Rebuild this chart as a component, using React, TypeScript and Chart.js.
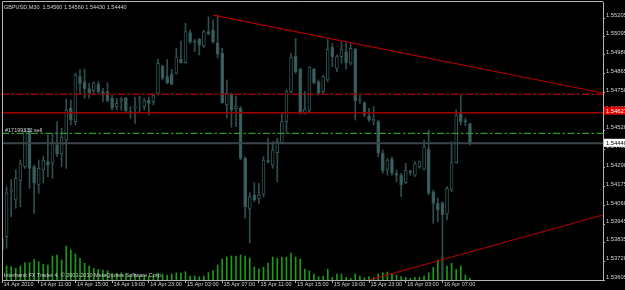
import { useEffect, useRef } from 'react';
import { Chart, registerables } from 'chart.js';

Chart.register(...registerables);

const SYMBOL = 'GBPUSD,M30';
const SLOT_COUNT = 132;
const LABEL_STEP = 8;
const AXIS_TIMES = [
  '14 Apr 2010', '14 Apr 11:00', '14 Apr 15:00', '14 Apr 19:00', '14 Apr 23:00',
  '15 Apr 03:00', '15 Apr 07:00', '15 Apr 11:00', '15 Apr 15:00', '15 Apr 19:00',
  '15 Apr 23:00', '16 Apr 03:00', '16 Apr 07:00',
];
const PRICE_TICKS = [
  1.53605, 1.5372, 1.53835, 1.53945, 1.5406, 1.54175, 1.5429, 1.54405,
  1.5452, 1.54635, 1.5475, 1.54865, 1.5498, 1.55095, 1.55205,
];
const PRICE_MIN = 1.53605;
const PRICE_MAX = 1.55303;
const VOLUME_MAX = 2780;

const OPEN = [
  1.53788, 1.53870, 1.54146, 1.54094, 1.54212, 1.54297, 1.54517, 1.54297, 1.54185, 1.54277,
  1.54328, 1.54318, 1.54430, 1.54375, 1.54460, 1.54656, 1.54572, 1.54847, 1.54816, 1.54774,
  1.54761, 1.54802, 1.54756, 1.54756, 1.54715, 1.54664, 1.54698, 1.54715, 1.54633, 1.54654,
  1.54712, 1.54664, 1.54704, 1.54694, 1.54745, 1.54912, 1.54847, 1.54863, 1.54867, 1.54953,
  1.54932, 1.55116, 1.55061, 1.55075, 1.55034, 1.55122, 1.55132, 1.55054, 1.54990, 1.54674,
  1.54741, 1.54651, 1.54654, 1.54348, 1.54037, 1.54124, 1.54104, 1.54130, 1.54332, 1.54307,
  1.54383, 1.54444, 1.54572, 1.54756, 1.54973, 1.54892, 1.54623, 1.54643, 1.54892, 1.54816,
  1.54756, 1.54827, 1.55026, 1.54898, 1.54969, 1.55000, 1.54929, 1.55014, 1.54703, 1.54688,
  1.54607, 1.54576, 1.54572, 1.54379, 1.54281, 1.54342, 1.54257, 1.54246, 1.54199, 1.54265,
  1.54246, 1.54297, 1.54281, 1.54403, 1.54144, 1.54073, 1.54077, 1.54008, 1.54155, 1.54322,
  1.54623, 1.54579, 1.54560,
];
const HIGH = [
  1.53910, 1.54175, 1.54216, 1.54277, 1.54338, 1.54521, 1.54532, 1.54307, 1.54338, 1.54362,
  1.54491, 1.54501, 1.54572, 1.54532, 1.54709, 1.54704, 1.54868, 1.54892, 1.54894, 1.54806,
  1.54816, 1.54816, 1.54776, 1.54810, 1.54735, 1.54715, 1.54721, 1.54721, 1.54664, 1.54721,
  1.54729, 1.54715, 1.54721, 1.54745, 1.54953, 1.54918, 1.54953, 1.54892, 1.55020, 1.55064,
  1.55173, 1.55132, 1.55075, 1.55081, 1.55132, 1.55213, 1.55193, 1.55224, 1.55020, 1.54827,
  1.54747, 1.54729, 1.54664, 1.54358, 1.54138, 1.54199, 1.54196, 1.54358, 1.54471, 1.54450,
  1.54471, 1.54623, 1.54766, 1.54990, 1.55081, 1.54898, 1.54756, 1.54908, 1.54898, 1.54827,
  1.54857, 1.55075, 1.55050, 1.54979, 1.55060, 1.55054, 1.55050, 1.55020, 1.54735, 1.54694,
  1.54654, 1.54664, 1.54582, 1.54399, 1.54348, 1.54358, 1.54277, 1.54257, 1.54318, 1.54277,
  1.54328, 1.54332, 1.54460, 1.54521, 1.54155, 1.54106, 1.54083, 1.54175, 1.54450, 1.54643,
  1.54735, 1.54595, 1.54560,
];
const LOW = [
  1.53758, 1.53799, 1.53992, 1.54043, 1.54053, 1.54287, 1.54165, 1.54012, 1.54135, 1.54196,
  1.54236, 1.54226, 1.54358, 1.54297, 1.54287, 1.54552, 1.54552, 1.54745, 1.54715, 1.54715,
  1.54735, 1.54745, 1.54694, 1.54694, 1.54643, 1.54643, 1.54643, 1.54631, 1.54593, 1.54562,
  1.54633, 1.54643, 1.54613, 1.54674, 1.54735, 1.54827, 1.54802, 1.54796, 1.54864, 1.54929,
  1.54929, 1.55050, 1.55000, 1.54979, 1.55026, 1.55102, 1.55050, 1.54961, 1.54684, 1.54595,
  1.54538, 1.54541, 1.54338, 1.53982, 1.53833, 1.54083, 1.54073, 1.54114, 1.54318, 1.54287,
  1.54205, 1.54440, 1.54501, 1.54745, 1.54868, 1.54619, 1.54619, 1.54633, 1.54802, 1.54735,
  1.54745, 1.54816, 1.54908, 1.54877, 1.54929, 1.54892, 1.54918, 1.54582, 1.54684, 1.54602,
  1.54572, 1.54552, 1.54358, 1.54257, 1.54246, 1.54246, 1.54205, 1.54114, 1.54194, 1.54246,
  1.54236, 1.54287, 1.54277, 1.54124, 1.53951, 1.53959, 1.53610, 1.53972, 1.54144, 1.54318,
  1.54552, 1.54546, 1.54430,
];
const CLOSE = [
  1.53861, 1.54138, 1.54152, 1.54226, 1.54314, 1.54511, 1.54287, 1.54196, 1.54287, 1.54338,
  1.54307, 1.54444, 1.54375, 1.54477, 1.54643, 1.54582, 1.54857, 1.54806, 1.54772, 1.54749,
  1.54810, 1.54756, 1.54745, 1.54700, 1.54654, 1.54684, 1.54709, 1.54639, 1.54627, 1.54664,
  1.54715, 1.54700, 1.54684, 1.54735, 1.54929, 1.54837, 1.54810, 1.54802, 1.54963, 1.54932,
  1.55122, 1.55060, 1.55057, 1.55040, 1.55122, 1.55108, 1.55060, 1.54985, 1.54688, 1.54745,
  1.54643, 1.54668, 1.54348, 1.54053, 1.54114, 1.54094, 1.54124, 1.54338, 1.54328, 1.54399,
  1.54450, 1.54572, 1.54756, 1.54965, 1.54877, 1.54623, 1.54648, 1.54904, 1.54810, 1.54745,
  1.54847, 1.55014, 1.54969, 1.54969, 1.55014, 1.54929, 1.55020, 1.54700, 1.54709, 1.54613,
  1.54582, 1.54587, 1.54379, 1.54273, 1.54338, 1.54257, 1.54246, 1.54185, 1.54277, 1.54262,
  1.54314, 1.54328, 1.54419, 1.54135, 1.54073, 1.54033, 1.54002, 1.54165, 1.54322, 1.54613,
  1.54572, 1.54570, 1.54440,
];
const VOLUME = [
  167, 140, 133, 117, 140, 173, 173, 207, 183, 157,
  150, 240, 250, 200, 340, 300, 260, 217, 167, 140,
  117, 107, 100, 93, 67, 67, 73, 60, 50, 60,
  40, 50, 40, 50, 70, 60, 50, 60, 73, 67,
  83, 40, 40, 33, 40, 73, 93, 150, 210, 230,
  240, 240, 250, 240, 220, 130, 110, 130, 170, 230,
  217, 230, 230, 270, 230, 210, 110, 90, 60, 33,
  40, 107, 27, 60, 60, 27, 17, 60, 40, 23,
  33, 27, 60, 73, 80, 67, 50, 33, 27, 17,
  27, 27, 40, 73, 127, 200, 230, 140, 167, 107,
  140, 50, 17,
];

const LEVEL_STOP = 1.5474;
const LEVEL_ALERT = 1.54627;
const LEVEL_ORDER = 1.545;
const LEVEL_BID = 1.5444;
const ORDER_TEXT = '#17199332 sell';
const COPYRIGHT = 'Interbank FX Trader 4, \u00a9 2001-2010 MetaQuotes Software Corp.';
const TREND_DOWN = [[46, 1.55223], [131, 1.54747]];
const TREND_UP = [[80, 1.53605], [131, 1.54002]];

const FONT = '"Liberation Sans", Arial, sans-serif';
const TEXT_COLOR = '#d2d2d2';
const FRAME_COLOR = '#b4b4b4';

const SLOTS = Array.from({ length: SLOT_COUNT }, (_, i) => String(i));

const mt4Plugin = {
  id: 'mt4',
  beforeDraw(chart: any) {
    const { ctx, width, height } = chart;
    ctx.save();
    ctx.fillStyle = '#000';
    ctx.fillRect(0, 0, width, height);
    ctx.restore();
  },
  afterDatasetsDraw(chart: any) {
    const { ctx, chartArea: a, scales } = chart;
    const xs = scales.x;
    const ys = scales.y;
    ctx.save();
    ctx.beginPath();
    ctx.rect(a.left, a.top, a.right - a.left, a.bottom - a.top);
    ctx.clip();
    const hline = (p: number, color: string, w: number, dash: number[]) => {
      const py = ys.getPixelForValue(p);
      ctx.strokeStyle = color;
      ctx.lineWidth = w;
      ctx.setLineDash(dash);
      ctx.beginPath();
      ctx.moveTo(a.left, py);
      ctx.lineTo(a.right, py);
      ctx.stroke();
    };
    hline(LEVEL_BID, '#3a454b', 2, []);
    hline(LEVEL_ORDER, '#2a9a2a', 1.2, [7, 2.5, 2.5, 2.5]);
    hline(LEVEL_ALERT, '#a00000', 1.6, []);
    hline(LEVEL_STOP, '#a00000', 1.4, [7, 2.5, 2.5, 2.5]);
    const tline = (pts: number[][]) => {
      const x1 = xs.getPixelForValue(pts[0][0]);
      const y1 = ys.getPixelForValue(pts[0][1]);
      const x2 = xs.getPixelForValue(pts[1][0]);
      const y2 = ys.getPixelForValue(pts[1][1]);
      const slope = (y2 - y1) / (x2 - x1);
      ctx.strokeStyle = '#b00000';
      ctx.lineWidth = 1.1;
      ctx.setLineDash([]);
      ctx.beginPath();
      ctx.moveTo(x1, y1);
      ctx.lineTo(a.right, y1 + slope * (a.right - x1));
      ctx.stroke();
    };
    tline(TREND_DOWN);
    tline(TREND_UP);
    ctx.restore();
  },
  afterDraw(chart: any) {
    const { ctx, chartArea: a, scales, width } = chart;
    const ys = scales.y;
    ctx.save();
    ctx.strokeStyle = FRAME_COLOR;
    ctx.lineWidth = 1;
    ctx.beginPath();
    ctx.moveTo(a.left + 0.5, a.bottom);
    ctx.lineTo(a.left + 0.5, a.top - 0.5);
    ctx.lineTo(a.right, a.top - 0.5);
    ctx.stroke();
    ctx.font = `5.5px ${FONT}`;
    ctx.fillStyle = TEXT_COLOR;
    ctx.textAlign = 'left';
    ctx.textBaseline = 'alphabetic';
    const n = CLOSE.length - 1;
    const header = `${SYMBOL}  ${OPEN[n].toFixed(5)} ${HIGH[n].toFixed(5)} ${LOW[n].toFixed(5)} ${CLOSE[n].toFixed(5)}`;
    ctx.fillText(header, 4, 8.5);
    ctx.fillText(COPYRIGHT, 4, 276.5);
    ctx.fillText(ORDER_TEXT, 5, ys.getPixelForValue(LEVEL_ORDER) - 1.5);
    const box = (p: number, dy: number, bg: string, fg: string) => {
      const py = ys.getPixelForValue(p) + dy;
      ctx.fillStyle = bg;
      ctx.fillRect(a.right + 1, py - 4, width - a.right - 1, 8);
      ctx.fillStyle = fg;
      ctx.font = `5.8px ${FONT}`;
      ctx.textBaseline = 'middle';
      ctx.fillText(p.toFixed(5), a.right + 3, py + 0.3);
    };
    box(LEVEL_ALERT, -2, '#e80000', '#ffffff');
    box(LEVEL_BID, -0.5, '#ffffff', '#000000');
    ctx.restore();
  },
};

export default function App() {
  const ref = useRef<HTMLCanvasElement | null>(null);

  useEffect(() => {
    if (!ref.current) return;
    const bodyData = OPEN.map((o, i) => [Math.min(o, CLOSE[i]), Math.max(o, CLOSE[i])]);
    const bodyColors = OPEN.map((o, i) => (CLOSE[i] >= o ? '#000000' : '#3b6060'));
    const wickData = LOW.map((l, i) => [l, HIGH[i]]);

    const chart = new Chart(ref.current, {
      type: 'bar',
      data: {
        labels: SLOTS,
        datasets: [
          {
            label: 'body',
            data: bodyData as any,
            backgroundColor: bodyColors,
            borderColor: '#335656',
            borderWidth: 1,
            borderSkipped: false,
            barThickness: 3,
            minBarLength: 1,
            grouped: false,
            order: 1,
            yAxisID: 'y',
          } as any,
          {
            label: 'wick',
            data: wickData as any,
            backgroundColor: '#2f4f4f',
            borderWidth: 0,
            barThickness: 1,
            grouped: false,
            order: 2,
            yAxisID: 'y',
          } as any,
          {
            label: 'volume',
            data: VOLUME,
            backgroundColor: '#1c9a1c',
            borderWidth: 0,
            barThickness: 1,
            grouped: false,
            order: 3,
            yAxisID: 'yv',
          } as any,
        ],
      },
      options: {
        animation: false,
        responsive: false,
        devicePixelRatio: 1,
        events: [],
        layout: { padding: { left: 2, top: 2, right: 0, bottom: 0 } },
        plugins: { legend: { display: false }, tooltip: { enabled: false } },
        scales: {
          x: {
            type: 'category',
            offset: false,
            grid: {
              offset: false,
              drawOnChartArea: false,
              tickLength: 3,
              color: (c: any) =>
                c.index % LABEL_STEP === 0 && c.index / LABEL_STEP < AXIS_TIMES.length ? FRAME_COLOR : 'rgba(0,0,0,0)',
            },
            border: { display: true, color: FRAME_COLOR },
            ticks: {
              autoSkip: false,
              maxRotation: 0,
              minRotation: 0,
              align: 'start',
              labelOffset: 1.5,
              padding: -2,
              color: TEXT_COLOR,
              font: { size: 5.5, family: FONT },
              callback: (_v: any, i: number) =>
                i % LABEL_STEP === 0 && i / LABEL_STEP < AXIS_TIMES.length ? AXIS_TIMES[i / LABEL_STEP] : '',
            },
            afterFit: (s: any) => {
              s.height = 10;
              s.paddingLeft = 0;
              s.paddingRight = 0;
            },
          },
          y: {
            type: 'linear',
            position: 'right',
            min: PRICE_MIN,
            max: PRICE_MAX,
            grid: { drawOnChartArea: false, tickLength: 2, color: FRAME_COLOR },
            border: { display: true, color: FRAME_COLOR },
            afterBuildTicks: (s: any) => {
              s.ticks = PRICE_TICKS.map((v) => ({ value: v }));
            },
            ticks: {
              color: TEXT_COLOR,
              padding: 1,
              labelOffset: -2.5,
              font: { size: 5.8, family: FONT },
              callback: (v: any) => Number(v).toFixed(5),
            },
            afterFit: (s: any) => {
              s.width = 22;
              s.paddingTop = 0;
              s.paddingBottom = 0;
            },
          },
          yv: {
            type: 'linear',
            display: false,
            min: 0,
            max: VOLUME_MAX,
          },
        },
      } as any,
      plugins: [mt4Plugin],
    });
    return () => chart.destroy();
  }, []);

  return (
    <div style={{ position: 'fixed', left: 0, top: 0, width: 625, height: 290, background: '#000' }}>
      <canvas ref={ref} width={625} height={290} style={{ display: 'block' }} />
    </div>
  );
}
